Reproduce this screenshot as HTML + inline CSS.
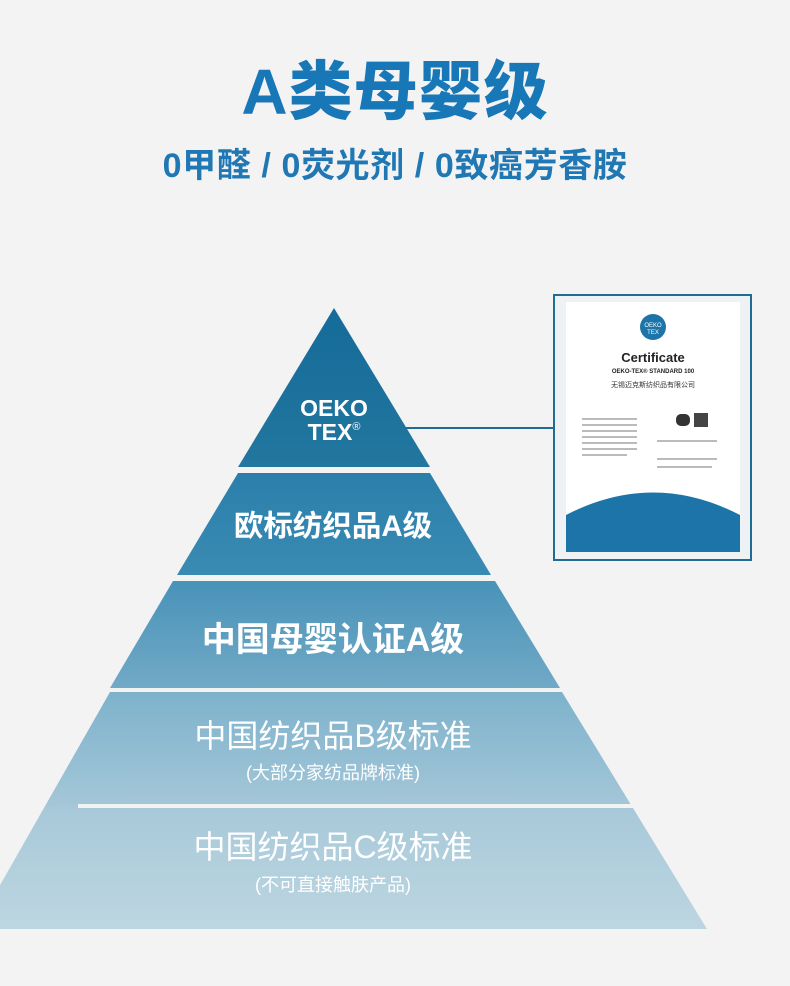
<!DOCTYPE html>
<html><head><meta charset="utf-8"><style>
body{margin:0;width:790px;height:986px;background:#f3f3f3;position:relative;overflow:hidden;font-family:"Liberation Sans","Noto Sans CJK SC",sans-serif}
.t{position:absolute;left:0;width:790px;text-align:center}
</style></head><body>
<div class="t" style="top:50px;font-size:64px;font-weight:900;color:#1877b6;line-height:84px;letter-spacing:1px">A类母婴级</div>
<div class="t" style="top:143px;font-size:34px;font-weight:700;color:#1f78b4;line-height:46px;letter-spacing:0.6px">0甲醛 / 0荧光剂 / 0致癌芳香胺</div>
<svg width="790" height="986" style="position:absolute;left:0;top:0">
<defs>
<linearGradient id="g1" x1="0" y1="308" x2="0" y2="467" gradientUnits="userSpaceOnUse"><stop offset="0" stop-color="#156b99"/><stop offset="1" stop-color="#22779f"/></linearGradient>
<linearGradient id="g2" x1="0" y1="473" x2="0" y2="575" gradientUnits="userSpaceOnUse"><stop offset="0" stop-color="#2a7faa"/><stop offset="1" stop-color="#3a8bb3"/></linearGradient>
<linearGradient id="g3" x1="0" y1="581" x2="0" y2="688" gradientUnits="userSpaceOnUse"><stop offset="0" stop-color="#4893b9"/><stop offset="1" stop-color="#72a9c6"/></linearGradient>
<linearGradient id="g4" x1="0" y1="692" x2="0" y2="929" gradientUnits="userSpaceOnUse"><stop offset="0" stop-color="#7db2cc"/><stop offset="0.47" stop-color="#a3c6d7"/><stop offset="0.5" stop-color="#a8c9d9"/><stop offset="1" stop-color="#bdd6e1"/></linearGradient>
</defs>
<polygon points="334,308 430,467 238,467" fill="url(#g1)"/>
<polygon points="238,473 430,473 491,575 177,575" fill="url(#g2)"/>
<polygon points="173,581 495,581 560,688 110,688" fill="url(#g3)"/>
<polygon points="110,692 562,692 707,929 -25,929" fill="url(#g4)"/>
<rect x="78" y="804" width="560" height="4" fill="#f3f3f3"/>
<line x1="406" y1="428" x2="554" y2="428" stroke="#1f6d94" stroke-width="2"/>
<rect x="554" y="295" width="197" height="265" fill="#eef2f4" stroke="#1f6d94" stroke-width="2"/>
<rect x="566" y="302" width="174" height="250" fill="#fff"/>
<path d="M566,515 Q653,470 740,515 L740,552 L566,552 Z" fill="#1d74a8"/>
<circle cx="653" cy="327" r="13" fill="#1d74a8"/>
<text x="653" y="327" font-size="6" fill="#fff" text-anchor="middle" font-family="Liberation Sans">OEKO</text>
<text x="653" y="334" font-size="6" fill="#fff" text-anchor="middle" font-family="Liberation Sans">TEX</text>
<text x="653" y="362" font-size="13" font-weight="bold" fill="#222" text-anchor="middle" font-family="Liberation Sans">Certificate</text>
<text x="653" y="373" font-size="6" font-weight="bold" fill="#222" text-anchor="middle" font-family="Liberation Sans">OEKO-TEX® STANDARD 100</text>
<text x="653" y="387" font-size="7" fill="#333" text-anchor="middle" font-family="Noto Sans CJK SC">无锡迈克斯纺织品有限公司</text>
<g fill="#bbb"><rect x="582" y="418" width="55" height="2"/><rect x="582" y="424" width="55" height="2"/><rect x="582" y="430" width="55" height="2"/><rect x="582" y="436" width="55" height="2"/><rect x="582" y="442" width="55" height="2"/><rect x="582" y="448" width="55" height="2"/><rect x="582" y="454" width="45" height="2"/><rect x="657" y="440" width="60" height="2"/><rect x="657" y="458" width="60" height="2"/><rect x="657" y="466" width="55" height="2"/></g>
<rect x="676" y="414" width="14" height="12" rx="5" fill="#333"/><rect x="694" y="413" width="14" height="14" fill="#444"/>
</svg>
<div style="position:absolute;left:234px;top:396px;width:200px;text-align:center;color:#fff;font-weight:bold;font-size:23px;line-height:24px;font-family:'Liberation Sans',sans-serif">OEKO<br>TEX<sup style="font-size:11px;font-weight:normal;vertical-align:10px;line-height:0">®</sup></div>
<div class="t" style="top:507px;left:-62px;font-size:29.5px;font-weight:700;color:#fff;line-height:40px">欧标纺织品A级</div>
<div class="t" style="top:618px;left:-62px;font-size:34px;font-weight:700;color:#fff;line-height:44px">中国母婴认证A级</div>
<div class="t" style="top:714px;left:-62px;font-size:32px;color:#fff;line-height:44px">中国纺织品B级标准</div>
<div class="t" style="top:760px;left:-62px;font-size:18px;color:#fff;line-height:26px">(大部分家纺品牌标准)</div>
<div class="t" style="top:825px;left:-62px;font-size:32px;color:#fff;line-height:44px">中国纺织品C级标准</div>
<div class="t" style="top:872px;left:-62px;font-size:18px;color:#fff;line-height:26px">(不可直接触肤产品)</div>
</body></html>
